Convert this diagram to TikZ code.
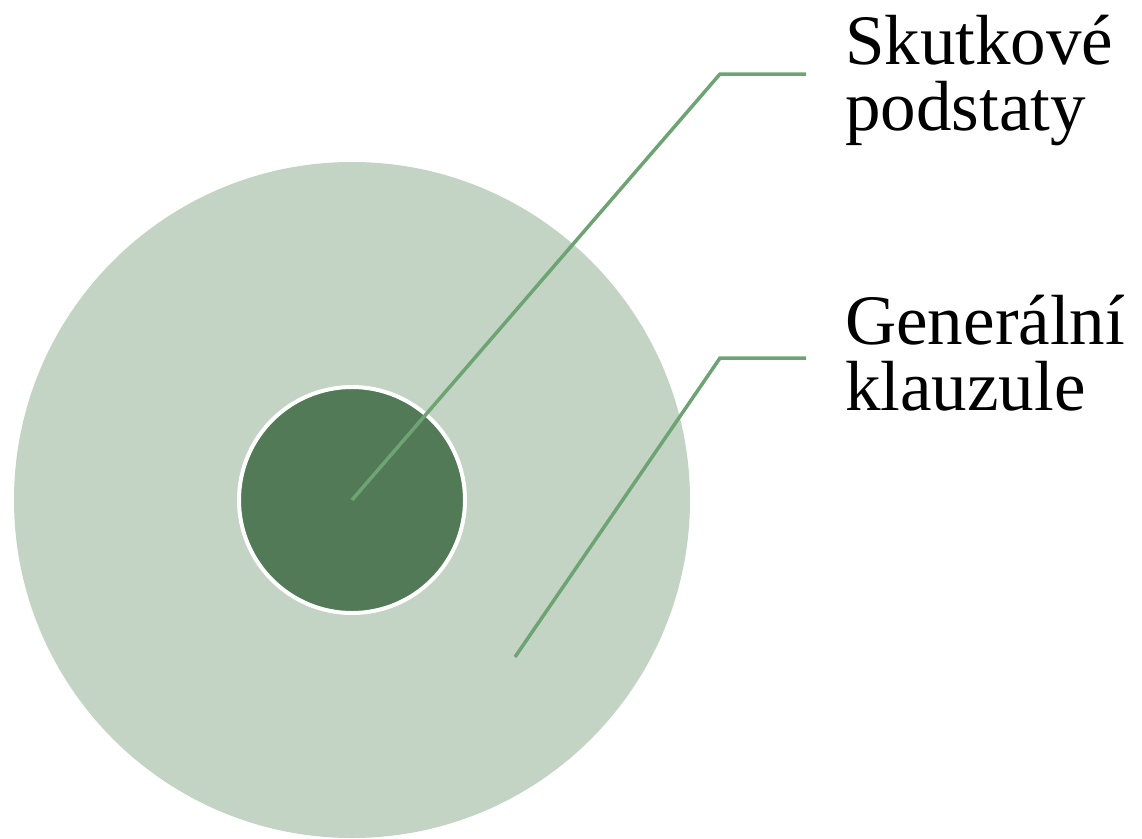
\documentclass[tikz,border=0pt]{standalone}
\usepackage{fontspec}
\setmainfont{Liberation Serif}
\definecolor{outerfill}{RGB}{195,212,196}
\definecolor{innerfill}{RGB}{82,122,86}
\definecolor{leader}{RGB}{110,164,115}
\begin{document}
\begin{tikzpicture}[x=1pt,y=-1pt,
  leaderline/.style={draw=leader,line width=3.5pt},
  lbl/.style={anchor=base west,inner sep=0pt,align=left,font=\fontsize{71}{66}\selectfont}]
\useasboundingbox (0,0) rectangle (1142,838);
\node[circle,fill=outerfill,minimum size=676pt,inner sep=0pt] (outer) at (352,500) {};
\node[circle,fill=innerfill,draw=white,line width=4pt,minimum size=226pt,inner sep=0pt] (inner) at (352,500) {};
\node[lbl] (l1) at (845,130) {Skutkové\\podstaty};
\node[lbl] (l2) at (845,410) {Generální\\klauzule};
\coordinate (k1) at (720,74);
\coordinate (e1) at (806,74);
\coordinate (s2) at (515,657);
\coordinate (k2) at (720,358);
\coordinate (e2) at (806,358);
\draw[leaderline] (inner.center) -- (k1) -- (e1);
\draw[leaderline] (s2) -- (k2) -- (e2);
\end{tikzpicture}
\end{document}
